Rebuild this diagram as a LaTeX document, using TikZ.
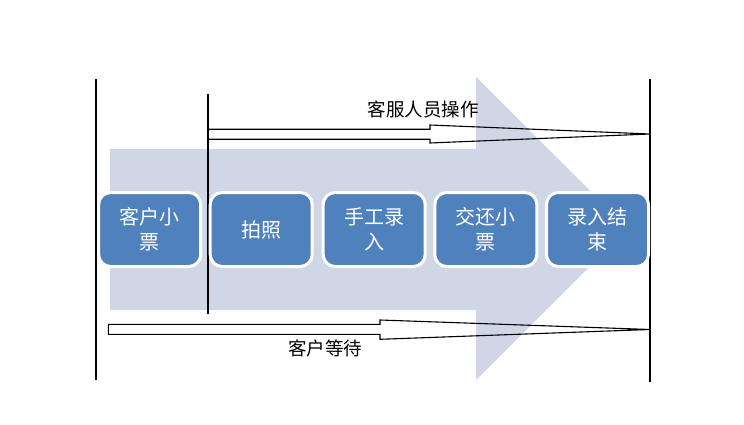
\documentclass[tikz,border=0pt]{standalone}
\usepackage{fontspec}
\setmainfont{Noto Sans CJK SC}
\definecolor{bigarrow}{HTML}{CFD7E6}
\definecolor{boxblue}{HTML}{4F81BD}
\begin{document}
\begin{tikzpicture}[x=1pt,y=-1pt,
  stepbox/.style={rectangle, rounded corners=12pt, fill=boxblue, draw=white, line width=3pt,
    minimum width=102pt, minimum height=74pt, inner sep=0pt, text=white, align=center,
    font=\fontsize{20}{25}\selectfont},
  rule/.style={draw=black, line width=1.1pt},
  thinarrow/.style={draw=black, line width=1.1pt, line join=miter},
  lbl/.style={inner sep=0pt, font=\fontsize{18.5}{20}\selectfont}]
\useasboundingbox (0,0) rectangle (744,425);
% big background arrow
\fill[bigarrow] (110,149) -- (476,149) -- (476,77) -- (628,228.5) -- (476,380) -- (476,310) -- (110,310) -- cycle;
% vertical rules
\coordinate (lt) at (96,79);  \coordinate (lb) at (96,380);
\coordinate (rt) at (650,79); \coordinate (rb) at (650,382);
\coordinate (mt) at (208,94); \coordinate (mb) at (208,314);
\draw[rule] (lt) -- (lb);
\draw[rule] (rt) -- (rb);
\draw[rule] (mt) -- (mb);
% steps
\node[stepbox] (b1) at (149.7,229.5) {客户小\\票};
\node[stepbox] (b2) at (261.2,229.5) {拍照};
\node[stepbox] (b3) at (374.2,229.5) {手工录\\入};
\node[stepbox] (b4) at (485.8,229.5) {交还小\\票};
\node[stepbox] (b5) at (597.5,229.5) {录入结\\束};
% upper tapered arrow
\draw[thinarrow] (208,129.3) -- (430,129.3) -- (430,125) -- (650,134) -- (430,143) -- (430,139.3) -- (208,139.3) -- cycle;
% lower tapered arrow
\draw[thinarrow] (108.3,324.3) -- (380,324.3) -- (380,320) -- (650,329.5) -- (380,339.3) -- (380,334.3) -- (108.3,334.3) -- cycle;
% labels
\node[lbl] (l1) at (423,109.5) {客服人员操作};
\node[lbl] (l2) at (325,348.5) {客户等待};
\end{tikzpicture}
\end{document}
